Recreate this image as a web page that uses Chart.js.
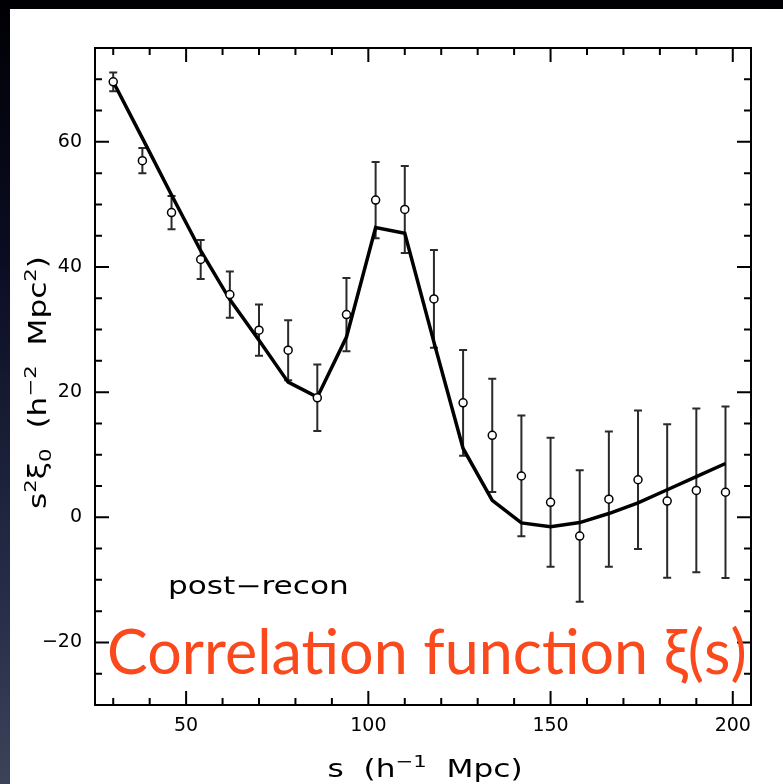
<!DOCTYPE html>
<html>
<head>
<meta charset="utf-8">
<script src="https://cdn.jsdelivr.net/npm/chart.js@4.4.1/dist/chart.umd.min.js"></script>
<style>
  html, body { margin: 0; padding: 0; }
  body {
    width: 783px; height: 784px; overflow: hidden;
    background: linear-gradient(to bottom, #000004 0%, #0b0e24 35%, #262c48 75%, #3c4259 100%);
    position: relative;
  }
  #wrap {
    position: absolute; left: 10px; top: 9px;
    width: 773px; height: 775px; background: #fff;
  }
</style>
</head>
<body>
<div id="wrap"><canvas id="xiChart"></canvas></div>
<script>
// separation bins (h^-1 Mpc)
const sBins = [30, 38, 46, 54, 62, 70, 78, 86, 94, 102, 110, 118, 126, 134, 142, 150, 158, 166, 174, 182, 190, 198];
// measured s^2 xi_0 and 1-sigma errors
const xiData = [69.6, 57.0, 48.7, 41.2, 35.6, 29.9, 26.7, 19.1, 32.4, 50.7, 49.2, 34.9, 18.3, 13.1, 6.6, 2.4, -3.0, 2.9, 6.0, 2.6, 4.3, 4.0];
const xiErr = [1.5, 2.0, 2.65, 3.1, 3.7, 4.1, 4.8, 5.3, 5.85, 6.1, 6.95, 7.8, 8.45, 9.05, 9.65, 10.3, 10.5, 10.8, 11.05, 12.25, 13.1, 13.7];
// best-fit model evaluated at the same bins
const xiModel = [69.6, 60.6, 51.5, 42.6, 34.8, 28.3, 21.6, 19.2, 28.8, 46.3, 45.4, 28.0, 11.0, 2.7, -0.9, -1.5, -0.85, 0.6, 2.3, 4.4, 6.5, 8.6];

const xTickLabels = [50, 100, 150, 200];
const yTickLabels = [-20, 0, 20, 40, 60];
const xMinorStep = 10, xMajorStep = 50;
const yMinorStep = 5, yMajorStep = 20;

const axisFont = '"DejaVu Sans", Verdana, sans-serif';
const stretch = 1.3; // wide plotter-style lettering

function fmt(v) {
  return v < 0 ? '\u2212' + Math.abs(v) : String(v);
}

// text made of normal / superscript / subscript pieces, centred on x
function richWidth(ctx, parts, size) {
  let w = 0;
  parts.forEach(p => {
    ctx.font = (p.k ? size * 0.68 : size) + 'px ' + axisFont;
    w += ctx.measureText(p.t).width;
  });
  return w;
}
function drawRich(ctx, parts, x, y, size) {
  ctx.save();
  ctx.translate(x, y);
  ctx.scale(stretch, 1);
  let cx = -richWidth(ctx, parts, size) / 2;
  parts.forEach(p => {
    ctx.font = (p.k ? size * 0.68 : size) + 'px ' + axisFont;
    let dy = 0;
    if (p.k === 'sup') dy = -size * 0.42;
    if (p.k === 'sub') dy = size * 0.22;
    ctx.fillText(p.t, cx, dy);
    cx += ctx.measureText(p.t).width;
  });
  ctx.restore();
}

const xTitle = [{t: 's  (h'}, {t: '\u22121', k: 'sup'}, {t: '  Mpc)'}];
const yTitle = [{t: 's'}, {t: '2', k: 'sup'}, {t: '\u03be'}, {t: '0', k: 'sub'},
                {t: '  (h'}, {t: '\u22122', k: 'sup'}, {t: '  Mpc'}, {t: '2', k: 'sup'}, {t: ')'}];

// error bars behind the line and the points
const errorBars = {
  id: 'errorBars',
  beforeDatasetsDraw(chart) {
    const {ctx, scales: {x, y}} = chart;
    ctx.save();
    ctx.strokeStyle = '#2a2a2a';
    ctx.lineWidth = 2;
    sBins.forEach((s, i) => {
      const px = x.getPixelForValue(s);
      const top = y.getPixelForValue(xiData[i] + xiErr[i]);
      const bot = y.getPixelForValue(xiData[i] - xiErr[i]);
      ctx.beginPath();
      ctx.moveTo(px, top); ctx.lineTo(px, bot);
      ctx.moveTo(px - 4, top); ctx.lineTo(px + 4, top);
      ctx.moveTo(px - 4, bot); ctx.lineTo(px + 4, bot);
      ctx.stroke();
    });
    ctx.restore();
  }
};

// boxed frame with inward ticks on all sides, titles and labels
const frame = {
  id: 'frame',
  afterDraw(chart) {
    const {ctx, chartArea: a, scales: {x, y}} = chart;
    ctx.save();
    ctx.strokeStyle = '#000';
    ctx.lineWidth = 2;
    ctx.strokeRect(a.left, a.top, a.right - a.left, a.bottom - a.top);

    ctx.beginPath();
    for (let v = Math.ceil(x.min / xMinorStep) * xMinorStep; v < x.max; v += xMinorStep) {
      const px = x.getPixelForValue(v);
      const len = v % xMajorStep === 0 ? 14 : 7;
      ctx.moveTo(px, a.bottom); ctx.lineTo(px, a.bottom - len);
      ctx.moveTo(px, a.top); ctx.lineTo(px, a.top + len);
    }
    for (let v = Math.ceil(y.min / yMinorStep) * yMinorStep + yMinorStep; v < y.max; v += yMinorStep) {
      const py = y.getPixelForValue(v);
      const len = v % yMajorStep === 0 ? 14 : 7;
      ctx.moveTo(a.left, py); ctx.lineTo(a.left + len, py);
      ctx.moveTo(a.right, py); ctx.lineTo(a.right - len, py);
    }
    ctx.stroke();

    // axis titles
    ctx.fillStyle = '#000';
    ctx.textBaseline = 'alphabetic';
    ctx.textAlign = 'left';
    drawRich(ctx, xTitle, (a.left + a.right) / 2 + 2, chart.height - 7, 24);
    ctx.save();
    ctx.translate(36, (a.top + a.bottom) / 2 + 6);
    ctx.rotate(-Math.PI / 2);
    drawRich(ctx, yTitle, 0, 0, 24);
    ctx.restore();

    // panel label
    ctx.save();
    ctx.translate(x.getPixelForValue(45), y.getPixelForValue(-12.3));
    ctx.scale(stretch, 1);
    ctx.font = '24px ' + axisFont;
    ctx.fillText('post\u2212recon', 0, 0);
    ctx.restore();

    // slide caption
    const caption = 'Correlation function \u03be(s)';
    ctx.font = '60px Lato, "Open Sans", sans-serif';
    const size = 60 * 640 / ctx.measureText(caption).width;
    ctx.font = size + 'px Lato, "Open Sans", sans-serif';
    ctx.fillStyle = '#fa4a1d';
    ctx.fillText(caption, a.left + 12, a.bottom - 31);
    ctx.restore();
  }
};

const ctx = document.getElementById('xiChart').getContext('2d');
new Chart(ctx, {
  type: 'scatter',
  data: {
    datasets: [{
      label: 'data',
      data: sBins.map((s, i) => ({x: s, y: xiData[i]})),
      pointRadius: 4,
      pointBorderWidth: 1.5,
      pointBackgroundColor: '#fff',
      pointBorderColor: '#000',
      showLine: false
    }, {
      label: 'model',
      type: 'line',
      data: sBins.map((s, i) => ({x: s, y: xiModel[i]})),
      borderColor: '#000',
      borderWidth: 3.5,
      pointRadius: 0,
      tension: 0,
      fill: false
    }]
  },
  options: {
    responsive: true,
    maintainAspectRatio: false,
    animation: false,
    layout: { padding: { top: 39, right: 32, left: 0, bottom: 0 } },
    plugins: { legend: { display: false }, tooltip: { enabled: false } },
    scales: {
      x: {
        type: 'linear',
        min: 25, max: 205,
        afterBuildTicks: s => { s.ticks = xTickLabels.map(v => ({value: v})); },
        afterFit: s => { s.height = 79; },
        grid: { display: false, drawTicks: false },
        border: { display: false },
        ticks: { color: '#000', padding: 10, font: { size: 19, family: axisFont }, callback: fmt }
      },
      y: {
        type: 'linear',
        min: -30, max: 75,
        afterBuildTicks: s => { s.ticks = yTickLabels.map(v => ({value: v})); },
        afterFit: s => { s.width = 85; },
        grid: { display: false, drawTicks: false },
        border: { display: false },
        ticks: { color: '#000', padding: 13, font: { size: 19, family: axisFont }, callback: fmt }
      }
    }
  },
  plugins: [errorBars, frame]
});
</script>
</body>
</html>
